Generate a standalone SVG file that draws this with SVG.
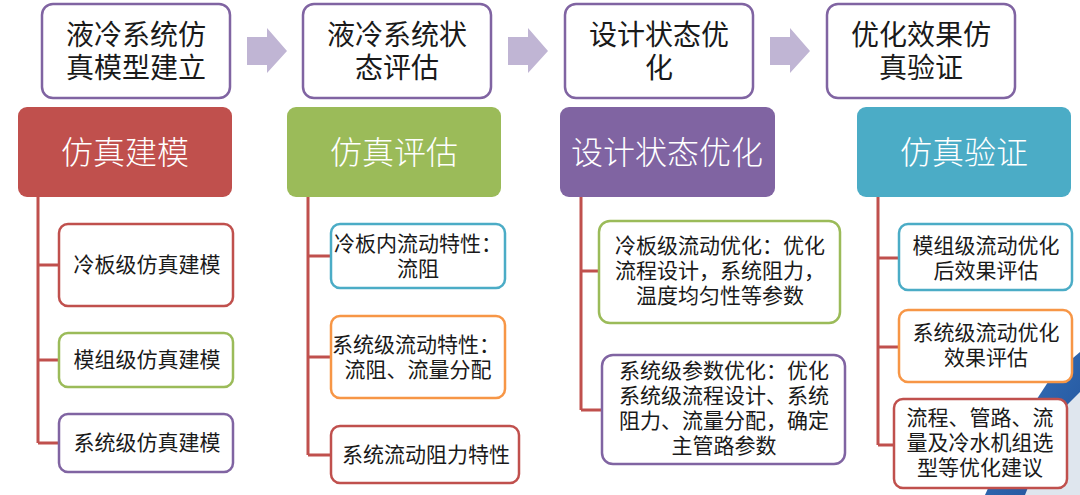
<svg xmlns="http://www.w3.org/2000/svg" width="1080" height="495" viewBox="0 0 1080 495">
<defs>
<style>
.top{fill:#fff;stroke:#8064a2;stroke-width:2.5}
.hd{stroke:none}
.sub{fill:#fff;stroke-width:2.5}
.t{font-family:"Noto Sans CJK SC","Noto Sans",sans-serif;fill:#1a1a1a;text-anchor:middle}
.t28{font-size:28px}
.t21{font-size:21px}
.h{font-family:"Noto Sans CJK SC","Noto Sans",sans-serif;fill:#fff;font-size:32px;text-anchor:middle;font-weight:300}
.arr{fill:#c0b5d4}
.con{fill:none;stroke:#c0504d;stroke-width:3}
</style>
<linearGradient id="bg" x1="0" y1="0" x2="1" y2="1">
<stop offset="0" stop-color="#3a78c2"/>
<stop offset="1" stop-color="#1f4f96"/>
</linearGradient>
</defs>
<rect width="1080" height="495" fill="#fff"/>
<g id="background-photo">
<polygon points="1080,352 1052,376 1010,440 985,495 1080,495" fill="url(#bg)"/>
<polygon points="1080,392 1062,410 1035,470 1025,495 1080,495" fill="#dfe6ee"/>
</g>
<g id="connectors">
<polygon class="arr" points="247,37 267,37 267,28 287,51 267,73 267,65 247,65"/>
<polygon class="arr" points="508,37 528,37 528,28 548,51 528,73 528,65 508,65"/>
<polygon class="arr" points="770,37 790,37 790,28 810,51 790,73 790,65 770,65"/>
<path class="con" d="M38,197 V443 M38,265 H59 M38,360 H59 M38,443 H59"/>
<path class="con" d="M308,197 V455 M308,256 H331 M308,357 H331 M308,455 H331"/>
<path class="con" d="M581,197 V410 M581,271 H599 M581,410 H602"/>
<path class="con" d="M878,197 V445 M878,258 H899 M878,347 H899 M878,445 H894"/>
</g>
<g id="step1">
<rect class="top" x="42" y="4" width="188" height="94" rx="11"/>
<text class="t t28" x="136" y="45">液冷系统仿</text>
<text class="t t28" x="136" y="78">真模型建立</text>
</g>
<g id="step2">
<rect class="top" x="303" y="4" width="188" height="94" rx="11"/>
<text class="t t28" x="397" y="45">液冷系统状</text>
<text class="t t28" x="397" y="78">态评估</text>
</g>
<g id="step3">
<rect class="top" x="565" y="4" width="188" height="94" rx="11"/>
<text class="t t28" x="659" y="45">设计状态优</text>
<text class="t t28" x="659" y="78">化</text>
</g>
<g id="step4">
<rect class="top" x="827" y="4" width="188" height="94" rx="11"/>
<text class="t t28" x="921" y="45">优化效果仿</text>
<text class="t t28" x="921" y="78">真验证</text>
</g>
<g id="head1">
<rect class="hd" x="18" y="107" width="214" height="90" rx="9" fill="#c0504d"/>
<text class="h" x="125" y="164">仿真建模</text>
</g>
<g id="head2">
<rect class="hd" x="287" y="107" width="214" height="90" rx="9" fill="#9bbb59"/>
<text class="h" x="394" y="164">仿真评估</text>
</g>
<g id="head3">
<rect class="hd" x="560" y="107" width="215" height="90" rx="9" fill="#8064a2"/>
<text class="h" x="667" y="164">设计状态优化</text>
</g>
<g id="head4">
<rect class="hd" x="857" y="107" width="214" height="90" rx="9" fill="#4bacc6"/>
<text class="h" x="964" y="164">仿真验证</text>
</g>
<g id="c1b1">
<rect class="sub" x="59" y="224" width="174" height="82" rx="9" stroke="#c0504d"/>
<text class="t t21" x="147" y="272">冷板级仿真建模</text>
</g>
<g id="c1b2">
<rect class="sub" x="59" y="333" width="174" height="54" rx="9" stroke="#9bbb59"/>
<text class="t t21" x="147" y="367">模组级仿真建模</text>
</g>
<g id="c1b3">
<rect class="sub" x="59" y="414" width="174" height="58" rx="9" stroke="#8064a2"/>
<text class="t t21" x="147" y="450">系统级仿真建模</text>
</g>
<g id="c2b1">
<rect class="sub" x="331" y="224" width="174" height="64" rx="9" stroke="#4bacc6"/>
<text class="t t21" x="418" y="251">冷板内流动特性：</text>
<text class="t t21" x="418" y="276">流阻</text>
</g>
<g id="c2b2">
<rect class="sub" x="331" y="316" width="174" height="82" rx="9" stroke="#f79646"/>
<text class="t t21" x="416" y="352">系统级流动特性：</text>
<text class="t t21" x="418" y="377">流阻、流量分配</text>
</g>
<g id="c2b3">
<rect class="sub" x="331" y="426" width="188" height="57" rx="9" stroke="#c0504d"/>
<text class="t t21" x="426" y="462">系统流动阻力特性</text>
</g>
<g id="c3b1">
<rect class="sub" x="599" y="221" width="241" height="102" rx="11" stroke="#9bbb59"/>
<text class="t t21" x="720" y="253">冷板级流动优化：优化</text>
<text class="t t21" x="720" y="278">流程设计，系统阻力，</text>
<text class="t t21" x="720" y="303">温度均匀性等参数</text>
</g>
<g id="c3b2">
<rect class="sub" x="602" y="355" width="243" height="109" rx="11" stroke="#8064a2"/>
<text class="t t21" x="724" y="378">系统级参数优化：优化</text>
<text class="t t21" x="724" y="403">系统级流程设计、系统</text>
<text class="t t21" x="724" y="428">阻力、流量分配，确定</text>
<text class="t t21" x="724" y="453">主管路参数</text>
</g>
<g id="c4b1">
<rect class="sub" x="899" y="224" width="173" height="66" rx="9" stroke="#4bacc6"/>
<text class="t t21" x="986" y="253">模组级流动优化</text>
<text class="t t21" x="986" y="278">后效果评估</text>
</g>
<g id="c4b2">
<rect class="sub" x="899" y="310" width="173" height="72" rx="9" stroke="#f79646"/>
<text class="t t21" x="986" y="340">系统级流动优化</text>
<text class="t t21" x="986" y="365">效果评估</text>
</g>
<g id="c4b3">
<rect class="sub" x="894" y="399" width="173" height="89" rx="9" stroke="#c0504d"/>
<text class="t t21" x="980" y="425">流程、管路、流</text>
<text class="t t21" x="980" y="450">量及冷水机组选</text>
<text class="t t21" x="980" y="475">型等优化建议</text>
</g>
</svg>
